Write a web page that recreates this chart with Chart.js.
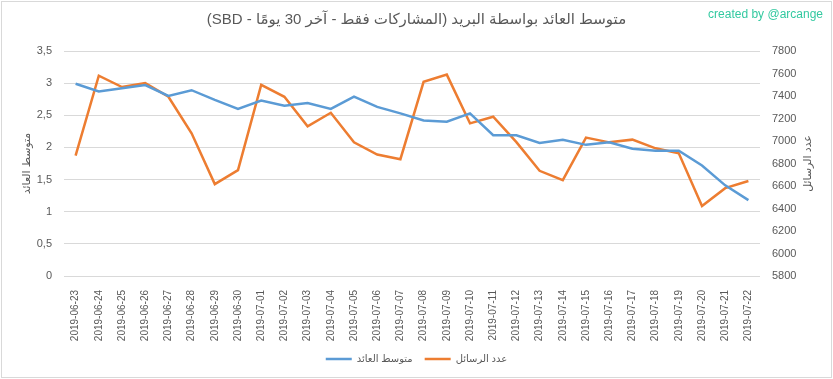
<!DOCTYPE html>
<html>
<head>
<meta charset="utf-8">
<script src="https://cdn.jsdelivr.net/npm/chart.js@4/dist/chart.umd.min.js"></script>
<style>
  html, body { margin: 0; padding: 0; background: #fff; }
  #wrap { width: 833px; height: 379px; }
</style>
</head>
<body>
<div id="wrap"><canvas id="line-chart"></canvas></div>
<script>
// data
var dates = ["2019-06-23", "2019-06-24", "2019-06-25", "2019-06-26", "2019-06-27", "2019-06-28",
  "2019-06-29", "2019-06-30", "2019-07-01", "2019-07-02", "2019-07-03", "2019-07-04",
  "2019-07-05", "2019-07-06", "2019-07-07", "2019-07-08", "2019-07-09", "2019-07-10",
  "2019-07-11", "2019-07-12", "2019-07-13", "2019-07-14", "2019-07-15", "2019-07-16",
  "2019-07-17", "2019-07-18", "2019-07-19", "2019-07-20", "2019-07-21", "2019-07-22"];

var avgReturn = [2.99, 2.87, 2.92, 2.97, 2.80, 2.89, 2.74, 2.60, 2.73, 2.65, 2.69, 2.60,
  2.79, 2.63, 2.53, 2.42, 2.40, 2.53, 2.19, 2.19, 2.07, 2.12, 2.04, 2.08,
  1.98, 1.95, 1.95, 1.72, 1.41, 1.18];

var messageCount = [6870, 7580, 7480, 7515, 7393, 7068, 6617, 6741, 7499, 7393, 7130, 7251,
  6988, 6880, 6838, 7526, 7590, 7157, 7216, 6990, 6735, 6652, 7030, 6988,
  7012, 6935, 6891, 6422, 6581, 6645];

var chartTitle = "متوسط العائد بواسطة البريد (المشاركات فقط - آخر 30 يومًا - SBD)";
var leftTitle = "متوسط العائد";
var rightTitle = "عدد الرسائل";
var creditText = "created by @arcange";

var font = "'Liberation Sans', 'DejaVu Sans', Arial, sans-serif";
var grey = "#595959";

// frame, credit line and right axis title
var extras = {
  id: "extras",
  beforeDraw: function (chart) {
    var ctx = chart.ctx;
    ctx.save();
    ctx.strokeStyle = "#d9d9d9";
    ctx.lineWidth = 1;
    ctx.strokeRect(1.5, 1.5, 830, 376);
    ctx.restore();
  },
  afterDraw: function (chart) {
    var ctx = chart.ctx;
    ctx.save();
    ctx.font = "12px " + font;
    ctx.fillStyle = "#33c9a0";
    ctx.textAlign = "right";
    ctx.textBaseline = "middle";
    ctx.fillText(creditText, 823, 15);

    var area = chart.chartArea;
    ctx.translate(808, (area.top + area.bottom) / 2);
    ctx.rotate(-Math.PI / 2);
    ctx.font = "11px " + font;
    ctx.fillStyle = grey;
    ctx.textAlign = "center";
    ctx.fillText(rightTitle, 0, 0);
    ctx.restore();
  }
};

new Chart(document.getElementById("line-chart"), {
  type: "line",
  data: {
    labels: dates,
    datasets: [
      {
        label: leftTitle,
        data: avgReturn,
        yAxisID: "y",
        borderColor: "#5b9bd5",
        backgroundColor: "#5b9bd5",
        borderWidth: 2.5,
        pointRadius: 0,
        tension: 0
      },
      {
        label: rightTitle,
        data: messageCount,
        yAxisID: "y1",
        borderColor: "#ed7d31",
        backgroundColor: "#ed7d31",
        borderWidth: 2.5,
        pointRadius: 0,
        tension: 0
      }
    ]
  },
  options: {
    responsive: true,
    maintainAspectRatio: false,
    animation: false,
    layout: { padding: { left: 0, right: 0, top: 0, bottom: 5 } },
    plugins: {
      title: {
        display: true,
        text: "\u202B" + chartTitle + "\u202C",
        color: grey,
        font: { family: font, size: 15, weight: "normal" },
        padding: { top: 11, bottom: 22 }
      },
      legend: {
        position: "bottom",
        labels: {
          color: grey,
          font: { family: font, size: 10 },
          usePointStyle: true,
          pointStyle: "line",
          pointStyleWidth: 26,
          padding: 12
        }
      },
      tooltip: { enabled: false }
    },
    scales: {
      x: {
        offset: true,
        grid: { display: false },
        border: { display: false },
        ticks: {
          color: grey,
          font: { family: font, size: 10 },
          minRotation: 90,
          maxRotation: 90,
          padding: 6,
          autoSkip: false
        },
        afterFit: function (scale) { scale.height = 66; }
      },
      y: {
        position: "left",
        min: 0,
        max: 3.5,
        border: { display: false },
        grid: { color: "#d9d9d9", drawTicks: false },
        title: {
          display: true,
          text: leftTitle,
          color: grey,
          font: { family: font, size: 11 },
          padding: { top: 20, bottom: 4 }
        },
        ticks: {
          stepSize: 0.5,
          color: grey,
          font: { family: font, size: 11 },
          padding: 12,
          callback: function (v) { return String(v).replace(".", ","); }
        },
        afterFit: function (scale) { scale.width = 64; }
      },
      y1: {
        position: "right",
        min: 5800,
        max: 7800,
        border: { display: false },
        grid: { drawOnChartArea: false, drawTicks: false },
        ticks: {
          stepSize: 200,
          color: grey,
          font: { family: font, size: 11 },
          padding: 12,
          callback: function (v) { return String(v); }
        },
        afterFit: function (scale) { scale.width = 73; }
      }
    }
  },
  plugins: [extras]
});
</script>
</body>
</html>
